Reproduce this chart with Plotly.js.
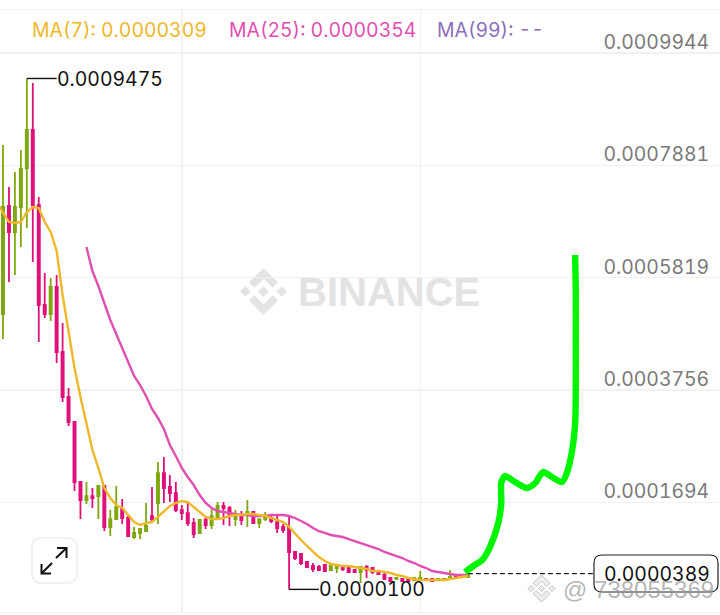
<!DOCTYPE html>
<html>
<head>
<meta charset="utf-8">
<script src="https://cdn.plot.ly/plotly-3.0.1.min.js"></script>
<style>html,body{margin:0;padding:0;background:#fff}#c{width:720px;height:615px}
svg text{font-feature-settings:"tnum" 1;font-variant-numeric:tabular-nums}</style>
</head>
<body>
<div id="c"></div>
<script>
// prices are read in units of 0.000001
const UNIT = 1e-6;
const open = [515.3,713.5,665.8,711.7,783.2,853.0,715.3,531.8,515.3,564.9,445.6,363.0,317.1,207.0,174.0,181.3,181.3,199.7,124.5,139.1,157.5,141.0,106.1,113.5,117.1,144.6,168.5,223.5,197.9,186.8,155.6,150.1,131.8,113.5,137.3,128.1,142.8,163.0,159.3,139.1,146.5,146.5,152.0,131.8,139.1,141.0,133.6,124.5,122.6,78.6,74.9,60.3,52.9,51.1,54.8,45.6,49.2,51.1,49.2,45.6,41.9,51.1,49.2,43.7,36.4,30.9,29.1,29.1,29.1,27.2,27.2,29.1,29.1,27.2,27.2,29.1,34.6,34.6,32.7];
const close = [711.7,665.8,711.7,781.4,853.0,715.3,531.8,515.3,564.9,445.6,363.0,317.1,207.0,174.0,181.3,177.7,199.7,124.5,139.1,161.2,141.0,107.9,113.5,120.8,126.3,139.1,223.5,196.0,186.8,155.6,150.1,131.8,111.6,137.3,128.1,144.6,163.0,159.3,144.6,144.6,137.3,152.0,131.8,139.1,144.6,135.5,122.6,119.0,78.6,67.6,58.4,51.1,47.4,45.6,43.7,52.9,51.1,47.4,41.9,41.9,51.1,45.6,41.9,38.2,29.1,25.4,30.9,25.4,25.4,30.9,30.9,27.2,25.4,29.1,29.1,32.7,30.9,32.7,36.4];
const high = [825.4,748.4,775.9,816.3,947.5,939.2,730.0,590.5,581.4,586.9,498.8,379.5,317.1,207.0,207.0,196.0,201.5,201.5,155.6,199.7,175.8,146.5,124.5,122.6,168.5,197.9,243.7,252.9,219.9,207.0,164.8,168.5,141.0,137.3,142.8,157.5,170.3,170.3,163.0,155.6,153.8,174.0,153.8,139.1,152.0,144.6,144.6,130.0,146.5,80.4,76.8,62.1,58.4,54.8,56.6,58.4,54.8,52.9,49.2,47.4,52.9,54.8,51.1,45.6,40.1,32.7,32.7,30.9,30.9,30.9,43.7,30.9,30.9,29.1,30.9,45.6,36.4,36.4,38.2];
const low = [469.4,574.0,586.9,638.3,673.1,610.7,463.9,508.0,502.5,425.4,353.8,309.8,190.5,139.1,166.7,159.3,139.1,117.1,107.9,137.3,130.0,106.1,102.4,102.4,115.3,133.6,130.0,168.5,170.3,152.0,137.3,126.3,104.3,111.6,120.8,120.8,141.0,128.1,126.3,126.3,128.1,124.5,130.0,122.6,135.5,131.8,113.5,113.5,10.0,63.9,54.8,49.2,41.9,43.7,41.9,43.7,40.1,43.7,40.1,40.1,21.7,30.9,38.2,36.4,27.2,23.6,27.2,25.4,23.6,25.4,25.4,27.2,23.6,25.4,27.2,27.2,29.1,30.9,32.7];
const ma7 = [719.0,702.5,684.1,682.3,684.1,702.5,711.7,709.8,684.1,665.8,631.0,550.2,486.0,416.2,363.0,311.6,265.8,232.7,196.0,177.7,164.8,159.3,146.5,133.6,128.1,131.8,133.6,142.8,153.8,163.0,168.5,172.2,170.3,161.2,152.0,142.8,139.1,139.1,141.0,144.6,146.5,146.5,148.3,148.3,146.5,144.6,141.0,137.3,133.6,124.5,111.6,100.6,89.6,78.6,69.4,62.1,56.6,54.8,52.9,52.9,51.1,49.2,47.4,43.7,43.7,41.9,40.1,36.4,34.6,30.9,29.1,27.2,27.2,27.2,27.2,27.2,29.1,30.9,32.7,34.6];
const ma25 = [638.3,594.2,566.7,535.5,504.3,478.6,452.9,427.2,401.5,385.0,364.8,341.0,324.5,304.3,274.9,254.7,232.7,216.2,201.5,183.2,168.5,159.3,153.8,152.0,150.1,148.3,146.5,146.5,144.6,144.6,144.6,146.5,146.5,146.5,144.6,141.0,135.5,130.0,122.6,117.1,113.5,109.8,107.9,106.1,102.4,98.8,95.1,91.4,87.7,84.1,78.6,74.9,71.3,67.6,62.1,58.4,52.9,49.2,43.7,41.9,40.1,38.2,36.4,36.4,36.4];
const drawnIdx = [77.5,78.9,80.4,81.7,83.1,83.6,83.6,84.2,85.9,87.9,89.3,90.6,92.1,93.8,94.6,95.5,96.0,96.1,96.1,96.1,96.0];
const drawnVal = [41.9,52.9,63.9,87.7,131.8,168.5,205.2,218.0,207.0,196.0,205.2,225.4,216.2,207.0,223.5,265.8,315.3,375.9,467.6,559.4,623.6];
const priceTicks = [994.4,788.1,581.9,375.6,169.4];
const timeGrid = [30,70];
const lastPrice = 38.9, highest = 947.5, lowest = 10.0;
const legendText = ['MA(7): 0.0000309','MA(25): 0.0000354','MA(99): --'];
const watermark = '@ 738055369';

const GREEN='#7fa80f', PINK='#e0107a', YEL='#efb72a', MAG='#e04fb2', PUR='#8a6fbb', GRID='#f1f1f1';
const FONT='Inter, "Noto Sans", sans-serif';
const p = a => a.map(v => v*UNIT);
const idx = (n,s=0) => Array.from({length:n},(_,i)=>i+s);

const traces = [
 {type:'candlestick',x:idx(open.length),open:p(open),high:p(high),low:p(low),close:p(close),
  increasing:{line:{color:GREEN,width:1.8},fillcolor:GREEN},
  decreasing:{line:{color:PINK,width:1.8},fillcolor:PINK},
  whiskerwidth:0,hoverinfo:'skip'},
 {type:'scatter',mode:'lines',x:idx(ma25.length,14),y:p(ma25),line:{color:MAG,width:2.4}},
 {type:'scatter',mode:'lines',x:idx(ma7.length,-1),y:p(ma7),line:{color:YEL,width:2.4}},
 {type:'scatter',mode:'lines',x:[78,100],y:p([lastPrice,lastPrice]),line:{color:'#222',width:1.3,dash:'5px,3px'}},
 {type:'scatter',mode:'lines',x:[4,9],y:p([highest,highest]),line:{color:'#111',width:1.4}},
 {type:'scatter',mode:'lines',x:[48,48,53],y:p([lowest,lowest,lowest]),line:{color:'#111',width:1.4}},
 {type:'scatter',mode:'lines',x:drawnIdx,y:p(drawnVal),line:{color:'#00f500',width:6.4,shape:'spline',smoothing:0.7}},
 {type:'scatter',mode:'lines',x:[null],y:[null],yaxis:'y2'}
];

// helpers for decoration placed in picture space
const X = x => x/720, Y = y => (612-y)/602;
const P = pts => 'M'+pts.map(q=>X(q[0]).toFixed(5)+' '+Y(q[1]).toFixed(5)).join(' L')+' Z';
const O = pts => 'M'+pts.map(q=>X(q[0]).toFixed(5)+' '+Y(q[1]).toFixed(5)).join(' L');
function rr(x0,y0,x1,y1,r){
  const q=(a,b)=>X(a).toFixed(5)+' '+Y(b).toFixed(5);
  return 'M'+q(x0+r,y0)+' L'+q(x1-r,y0)+' Q'+q(x1,y0)+' '+q(x1,y0+r)+' L'+q(x1,y1-r)+' Q'+q(x1,y1)+' '+q(x1-r,y1)+' L'+q(x0+r,y1)+' Q'+q(x0,y1)+' '+q(x0,y1-r)+' L'+q(x0,y0+r)+' Q'+q(x0,y0)+' '+q(x0+r,y0)+' Z';
}
const logoParts=[[[38.73,53.2],[63.3,28.64],[87.88,53.22],[102.18,38.92],[63.3,0],[24.43,38.87]],
 [[0,63.3],[14.3,49],[28.6,63.3],[14.3,77.6]],
 [[38.73,73.41],[63.31,97.98],[87.98,73.39],[102.2,87.69],[63.3,126.6],[24.4,87.7]],
 [[98,63.31],[112.3,49],[126.6,63.3],[112.3,77.6]],
 [[77.83,63.3],[63.3,48.77],[48.77,63.3],[63.3,77.83]]];
const logo=(cx,cy,size,fill,line)=>logoParts.map(part=>({type:'path',xref:'paper',yref:'paper',layer:'below',
  path:P(part.map(q=>[cx+(q[0]-63.3)*size/126.6,cy+(q[1]-63.3)*size/126.6])),fillcolor:fill,line:{color:line,width:line==='rgba(0,0,0,0)'?0:1}}));

const shapes=[
 ...logo(263.5,291.5,47,'#e3e3e3','rgba(0,0,0,0)'),
 {type:'path',xref:'paper',yref:'paper',path:rr(32,538,77,583,10),fillcolor:'#fff',line:{color:'#eeeeee',width:1.6}},
 {type:'path',xref:'paper',yref:'paper',path:O([[52,563],[41.5,573.5]]),line:{color:'#111',width:2}},
 {type:'path',xref:'paper',yref:'paper',path:O([[41.5,564],[41.5,573.5],[51,573.5]]),line:{color:'#111',width:2}},
 {type:'path',xref:'paper',yref:'paper',path:O([[56,558],[66.5,548]]),line:{color:'#111',width:2}},
 {type:'path',xref:'paper',yref:'paper',path:O([[57,548],[66.5,548],[66.5,558]]),line:{color:'#111',width:2}},
 {type:'path',xref:'paper',yref:'paper',path:rr(594,555,718,592,8),fillcolor:'#fff',line:{color:'#222',width:1.2}},
 ...logo(541.5,588.5,27,'rgba(235,235,235,0.85)','rgba(170,170,170,0.7)').map(s=>Object.assign(s,{layer:'above'}))
];
const txt=(x,y,t,c,size,anchor,extra)=>Object.assign({xref:'paper',yref:'paper',x:X(x),y:Y(y),text:t,showarrow:false,xanchor:anchor||'left',yanchor:'middle',font:{family:FONT,size:size,color:c}},extra||{});
const annotations=[
 txt(30,30,legendText[0],YEL,19.4),
 txt(227,30,legendText[1],MAG,19.4),
 txt(435,30,legendText[2],PUR,19.4),
 txt(296,292,'BINANCE','#e3e3e3',40,'left',{font:{family:'"Liberation Sans"',size:40,color:'#e3e3e3',weight:700}}),
 {x:8.7,y:highest*UNIT,xref:'x',yref:'y',yshift:-1,text:'0.0009475',showarrow:false,xanchor:'left',yanchor:'middle',font:{family:FONT,size:19.4,color:'#111'}},
 {x:52.6,y:lowest*UNIT,xref:'x',yref:'y',text:'0.0000100',showarrow:false,xanchor:'left',yanchor:'middle',font:{family:FONT,size:19.4,color:'#111'}},
 txt(657,573.5,'0.0000389','#111',19.4,'center'),
 txt(561,589.5,watermark,'rgba(150,150,150,0.7)',24,'left',{font:{family:'"Liberation Sans"',size:24,color:'rgba(150,150,150,0.7)'}})
];

const yr=[-31.5*UNIT,1073.15*UNIT];
const shift=20.2*UNIT;
const layout={
 width:720,height:615,margin:{l:0,r:0,t:10,b:3,pad:0},
 paper_bgcolor:'#fff',plot_bgcolor:'#fff',showlegend:false,boxgap:0.48,
 xaxis:{range:[-0.503,120.3],tickvals:timeGrid,showticklabels:false,ticks:'',gridcolor:GRID,gridwidth:1.4,
        showline:true,mirror:true,linecolor:GRID,linewidth:1.4,zeroline:false,rangeslider:{visible:false},fixedrange:true},
 yaxis:{range:yr,tickvals:p(priceTicks),showticklabels:false,ticks:'',gridcolor:GRID,gridwidth:1.4,zeroline:false,showline:false,fixedrange:true},
 yaxis2:{overlaying:'y',anchor:'free',side:'left',position:0.985,range:[yr[0]-shift,yr[1]-shift],tickvals:p(priceTicks),tickformat:'.7f',
         showgrid:false,zeroline:false,showline:false,ticks:'',tickfont:{family:FONT,size:19.4,color:'#7a7a7a'},fixedrange:true},
 shapes:shapes,annotations:annotations
};
traces.forEach(t=>{t.showlegend=false;if(t.type==='scatter')t.hoverinfo='skip';});
Plotly.newPlot('c',traces,layout,{staticPlot:true,displayModeBar:false});
</script>
</body>
</html>
